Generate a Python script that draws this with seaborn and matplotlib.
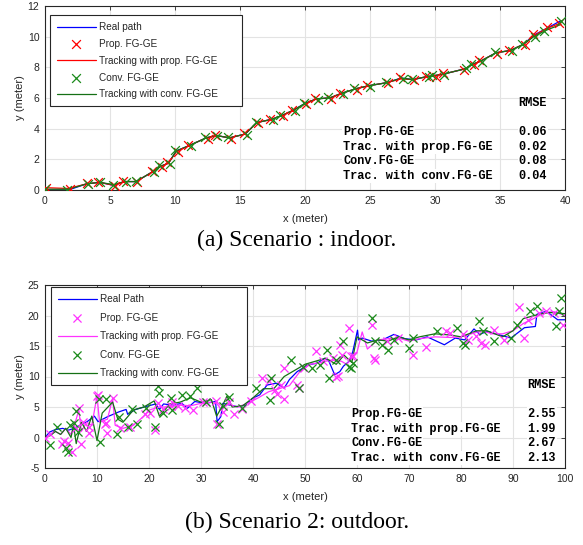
import matplotlib
matplotlib.use("Agg")
import matplotlib.pyplot as plt
import seaborn as sns

# ---------------- Scenario (a): indoor ----------------
real_x1 = [0.0, 1.8, 3.2, 4.2, 5.3, 6.1, 7.0, 8.3, 8.9, 9.5, 10.1, 11.1, 12.4, 13.2, 14.2, 15.4, 16.3, 17.4, 18.2, 19.1,
           20.0, 20.9, 21.9, 22.8, 23.9, 24.9, 26.3, 27.4, 28.3, 29.4, 29.9, 30.6, 32.3, 32.9, 33.5, 34.7, 35.8, 36.8,
           37.6, 38.5, 39.7]
real_y1 = [0.0, 0.0, 0.4, 0.5, 0.3, 0.55, 0.55, 1.2, 1.55, 1.75, 2.55, 2.9, 3.4, 3.55, 3.4, 3.65, 4.4, 4.6, 4.85, 5.2,
           5.65, 5.95, 6.0, 6.3, 6.6, 6.8, 7.0, 7.3, 7.2, 7.4, 7.45, 7.55, 7.9, 8.2, 8.4, 8.95, 9.1, 9.5, 10.1, 10.5,
           11.05]
prop_x1 = [0.1, 1.9, 3.2, 4.1, 5.4, 6.0, 7.1, 8.2, 9.0, 9.4, 10.2, 11.0, 12.5, 13.1, 14.3, 15.3, 16.4, 17.3, 18.3, 19.0,
           20.1, 20.8, 22.0, 22.7, 24.0, 24.8, 26.4, 27.3, 28.4, 29.3, 30.1, 30.6, 32.2, 33.0, 33.4, 34.8, 35.7, 36.9,
           37.5, 38.6, 39.5]
prop_y1 = [0.15, 0.05, 0.45, 0.5, 0.25, 0.6, 0.5, 1.25, 1.5, 1.8, 2.5, 2.95, 3.35, 3.6, 3.35, 3.7, 4.35, 4.65, 4.8, 5.25,
           5.6, 6.0, 5.95, 6.35, 6.55, 6.85, 6.95, 7.35, 7.15, 7.45, 7.4, 7.6, 7.85, 8.15, 8.45, 8.9, 9.15, 9.45, 10.2,
           10.6, 10.9]
conv_x1 = [0.0, 1.7, 3.3, 4.2, 5.2, 6.2, 7.0, 8.4, 8.8, 9.6, 10.0, 11.2, 12.3, 13.2, 14.1, 15.5, 16.2, 17.5, 18.1, 19.2,
           19.9, 21.0, 21.8, 22.9, 23.8, 25.0, 26.2, 27.5, 28.2, 29.5, 29.8, 30.7, 32.4, 32.8, 33.6, 34.6, 35.9, 36.7,
           37.7, 38.4, 39.7]
conv_y1 = [0.05, 0.0, 0.4, 0.55, 0.35, 0.55, 0.6, 1.15, 1.6, 1.7, 2.6, 2.85, 3.45, 3.5, 3.45, 3.6, 4.45, 4.55, 4.9, 5.15,
           5.7, 5.9, 6.05, 6.25, 6.65, 6.75, 7.05, 7.25, 7.25, 7.35, 7.5, 7.5, 7.95, 8.25, 8.35, 9.0, 9.05, 9.55, 10.0,
           10.4, 11.0]
trkp_y1 = [0.15, 0.1, 0.4, 0.5, 0.3, 0.55, 0.55, 1.2, 1.55, 1.75, 2.5, 2.9, 3.4, 3.55, 3.4, 3.65, 4.4, 4.6, 4.85, 5.2,
           5.6, 5.95, 6.0, 6.3, 6.6, 6.8, 7.0, 7.25, 7.2, 7.4, 7.45, 7.55, 7.9, 8.2, 8.4, 8.95, 9.1, 9.5, 10.05, 10.5,
           10.9]
trkc_y1 = [0.05, 0.05, 0.4, 0.5, 0.35, 0.55, 0.55, 1.2, 1.55, 1.75, 2.55, 2.9, 3.4, 3.55, 3.4, 3.65, 4.4, 4.6, 4.85,
           5.2, 5.65, 5.95, 6.0, 6.3, 6.6, 6.8, 7.0, 7.3, 7.2, 7.4, 7.45, 7.55, 7.9, 8.2, 8.4, 8.95, 9.1, 9.5, 10.0,
           10.4, 10.8]
rmse_labels = ["Prop.FG-GE", "Trac. with prop.FG-GE", "Conv.FG-GE", "Trac. with conv.FG-GE"]
rmse_vals1 = ["0.06", "0.02", "0.08", "0.04"]

# ---------------- Scenario (b): outdoor ----------------
real_x2 = [0, 0.9, 2.0, 3.4, 4.5, 5.6, 6.7, 8.1, 9.5, 10.2, 12.0, 14.2, 15.6, 15.9, 17.4, 19.5, 21.3, 22.0, 22.8, 24.5,
           26.3, 27.4, 28.8, 30.9, 32.8, 33.1, 33.8, 34.2, 35.6, 37.0, 38.5, 39.9, 41.3, 42.7, 44.5, 46.0, 47.0, 48.5,
           50.6, 52.4, 53.8, 54.6, 55.7, 56.7, 57.4, 58.5, 59.2, 60.1, 60.3, 61.0, 62.8, 64.9, 67.1, 69.2, 71.4, 73.5,
           76.8, 78.9, 80.7, 82.5, 83.6, 85.0, 87.1, 89.6, 92.2, 94.3, 94.6, 96.4, 98.6, 100]
real_y2 = [0, 0.9, 1.3, 1.5, 1.2, 1.5, 2.0, 2.6, 3.5, 2.6, 3.4, 4.2, 4.6, 3.8, 4.6, 5.1, 5.5, 4.6, 5.5, 5.3,
           5.6, 4.8, 5.9, 5.6, 5.9, 2.6, 3.4, 5.6, 5.3, 5.05, 5.3, 6.4, 7.0, 8.6, 8.9, 8.1, 9.5, 10.8, 11.9, 12.2,
           13.0, 12.5, 10.3, 10.8, 11.7, 12.5, 14.1, 17.6, 16.0, 16.3, 15.8, 16.0, 16.9, 16.2, 16.0, 16.5, 15.2, 16.3,
           16.0, 17.8, 16.9, 17.4, 16.9, 16.3, 18.0, 18.2, 20.2, 20.7, 19.3, 19.3]
prop_x2 = [0, 0.9, 3.3, 3.6, 4.5, 5.2, 5.9, 6.5, 6.9, 7.4, 8.4, 8.4, 10.0, 10.2, 11.5, 11.7, 11.9, 13.1, 14.5, 16.3,
           19.2, 20.2, 21.2, 21.7, 22.7, 24.2, 24.5, 25.6, 27.0, 28.5, 30.3, 31.0, 32.8, 33.1, 34.2, 35.3, 36.3, 37.8,
           39.6, 41.7, 43.1, 44.2, 44.6, 45.3, 46.0, 46.0, 48.5, 48.9, 49.9, 52.1, 53.5, 55.3, 56.0, 56.4, 56.7, 57.1,
           58.5, 58.9, 59.2, 62.8, 63.2, 63.5, 65.7, 67.8, 70.7, 73.2, 77.1, 77.8, 80.3, 81.4, 82.8, 83.9, 84.6, 86.4,
           88.2, 91.1, 92.1, 92.8, 95.0, 96.4, 97.9, 99.6]
prop_y2 = [0, 0.5, -1.0, -0.5, -0.9, -2.4, 1.5, 4.9, -1.1, 2.6, 1.8, 0.7, 6.8, 7.0, 2.2, 2.3, 0.7, 6.4, 1.6, 1.8,
           3.8, 4.0, 1.3, 5.6, 4.6, 5.1, 5.9, 5.1, 4.9, 4.5, 5.9, 5.9, 6.0, 2.2, 4.2, 5.9, 3.8, 4.6,
           6.0, 9.7, 9.2, 7.8, 7.1, 8.6, 6.3, 11.4, 8.6, 8.1, 11.4, 14.1, 12.5, 13.0, 10.0, 10.1, 15.2, 13.6,
           18.0, 13.3, 13.3, 18.4, 13.0, 12.7, 15.8, 16.3, 13.6, 14.9, 17.4, 17.1, 16.9, 16.0, 16.6, 15.5, 15.2, 17.7,
           16.0, 21.4, 16.3, 19.3, 20.4, 20.7, 20.4, 18.5]
conv_x2 = [0.9, 2.4, 4.1, 4.5, 4.9, 5.6, 5.9, 6.3, 10.6, 10.4, 11.7, 13.8, 14.3, 16.0, 16.7, 17.7, 19.5, 21.2, 21.7,
           22.0, 22.7, 24.2, 24.5, 26.3, 27.8, 29.2, 31.0, 32.4, 33.5, 34.2, 35.3, 37.8, 40.6, 43.3, 43.5, 47.4, 48.9,
           49.6, 51.4, 52.8, 54.2, 54.6, 56.0, 57.4, 58.5, 58.9, 59.2, 62.8, 63.5, 64.9, 66.0, 67.1, 70.0, 70.7, 75.3,
           79.3, 80.3, 80.7, 83.5, 84.3, 86.4, 89.6, 90.7, 93.2, 94.6, 98.2, 98.9, 99.3]
conv_y2 = [-1.3, 1.8, -1.8, -2.4, 2.0, 2.3, 4.3, 0.9, -0.7, 6.3, 6.3, 0.5, 3.4, 1.8, 4.6, 2.2, 4.8, 1.8, 8.4,
           7.3, 4.0, 6.4, 4.5, 7.0, 6.8, 8.1, 5.9, 9.5, 2.2, 5.1, 6.7, 4.8, 8.1, 6.2, 9.7, 12.7, 8.1,
           11.6, 11.4, 11.9, 14.4, 9.7, 12.7, 15.8, 11.5, 11.4, 12.2, 19.6, 15.8, 15.2, 14.4, 16.0, 14.7, 16.3, 17.4,
           18.0, 15.5, 15.2, 19.1, 17.4, 15.8, 16.3, 18.5, 20.7, 21.5, 18.2, 20.7, 22.9]
trkp_x2 = [0, 1, 2, 3, 4, 5, 6, 6.5, 7, 8, 9, 10, 10.5, 12, 13, 13.5, 15, 17, 19, 20, 22, 24, 26, 28, 30, 32, 33, 34,
           35, 37, 39, 41, 43, 45, 47, 49, 51, 53, 55, 57, 58, 59, 60, 61, 62, 64, 66, 68, 70, 72, 75, 78, 80, 82, 84,
           86, 88, 90, 92, 94, 96, 98, 100]
trkp_y2 = [0, 0.5, 1, 0.5, 1.5, 0.5, 3, 4.5, 1, 2.5, 2, 6.8, 2.5, 3, 6.4, 2, 1.5, 2, 3.5, 4.5, 5, 5, 5.3, 5.2, 5.6,
           5.8, 5.6, 4.5, 5.5, 5, 5.6, 6.5, 7.5, 8, 8.5, 10.8, 12, 12.3, 12.7, 12.5, 12, 13, 14, 17.3, 14.5, 16,
           16.2, 16.3, 15.8, 16.2, 16.5, 16.4, 16.5, 17, 17.5, 17, 17, 17.5, 18.7, 19.5, 20.5, 20.6, 20]
trkc_x2 = [0, 1, 2, 3, 4, 5, 5.5, 6, 7, 8, 9, 10, 11, 13, 14, 15, 17, 19, 21, 22, 24, 26, 28, 30, 32, 33, 34, 35, 36,
           38, 40, 42, 44, 46, 48, 50, 52, 54, 56, 57.5, 59, 60, 62, 64, 66, 68, 70, 72, 75, 78, 80, 83, 85, 88, 90,
           92, 95, 97, 100]
trkc_y2 = [0, 0.3, 1, 0.5, 1.5, 0, 2, -1, 2.5, 1, 3.5, -0.5, 4, 5.8, 3, 2.5, 4.5, 5, 6, 3.5, 5.5, 5.8, 6.5, 5.8,
           6.2, 3.5, 5, 6.8, 5, 5.2, 6.5, 8, 8, 10, 11, 12, 12.5, 13, 12, 13.5, 12.3, 16.5, 15.5, 16, 15.8, 16.5,
           16, 16.5, 17, 16.8, 16.5, 17.5, 17.5, 16.5, 17.5, 19.5, 20.2, 20.5, 20.3]
rmse_vals2 = ["2.55", "1.99", "2.67", "2.13"]

# ---------------- Drawing ----------------
sns.set_theme(style="white")
plt.rcParams["font.family"] = ["Liberation Sans", "DejaVu Sans"]
plt.rcParams["axes.unicode_minus"] = False
plt.rcParams["axes.edgecolor"] = "#262626"
plt.rcParams["xtick.color"] = "#262626"
plt.rcParams["ytick.color"] = "#262626"

W, H = 583, 545
fig = plt.figure(figsize=(W / 100, H / 100), dpi=100)
ax1 = fig.add_axes([45 / W, 1 - 190 / H, 520 / W, 184 / H])
ax2 = fig.add_axes([45 / W, 1 - 468 / H, 520 / W, 183 / H])

BLUE = "#0000ff"
RED = "#ff0000"
GREEN = "#1a8a1a"
MAG = "#ff33ff"
DGREEN = "#157015"


def style_axes(ax, xlim, ylim, xt, yt):
    ax.set_xlim(*xlim)
    ax.set_ylim(*ylim)
    ax.set_xticks(xt)
    ax.set_yticks(yt)
    ax.grid(True, color="#e3e3e3", linewidth=0.8)
    ax.set_axisbelow(True)
    ax.tick_params(direction="in", length=3, width=0.6, labelsize=7.5, top=True, right=True,
                   labelcolor="#262626", pad=4)
    for s in ax.spines.values():
        s.set_linewidth(0.8)
        s.set_color("#262626")
    ax.set_xlabel("x (meter)", fontsize=8, color="#262626", labelpad=6)
    ax.set_ylabel("y (meter)", fontsize=8, color="#262626", labelpad=2)


def make_legend(ax, anchor, spacing):
    leg = ax.legend(loc="upper left", bbox_to_anchor=anchor, mode="expand", fontsize=7.2, frameon=True,
                    fancybox=False, edgecolor="#262626", framealpha=1, handlelength=3.9, handletextpad=0.3,
                    labelspacing=spacing, borderpad=0.7, borderaxespad=0)
    leg.get_frame().set_linewidth(0.8)
    for t in leg.get_texts():
        t.set_color("#262626")
    return leg


# Panel (a)
sns.lineplot(x=real_x1, y=real_y1, ax=ax1, color=BLUE, linewidth=0.9, sort=False, estimator=None,
             label="Real path")
sns.scatterplot(x=prop_x1, y=prop_y1, ax=ax1, color=RED, marker="x", s=40, linewidth=0.9,
                label="Prop. FG-GE", zorder=3)
sns.lineplot(x=real_x1, y=trkp_y1, ax=ax1, color=RED, linewidth=0.9, sort=False, estimator=None,
             label="Tracking with prop. FG-GE")
sns.scatterplot(x=conv_x1, y=conv_y1, ax=ax1, color=GREEN, marker="x", s=40, linewidth=0.9,
                label="Conv. FG-GE", zorder=4)
sns.lineplot(x=real_x1, y=trkc_y1, ax=ax1, color=DGREEN, linewidth=0.9, sort=False, estimator=None,
             label="Tracking with conv. FG-GE")
style_axes(ax1, (0, 40), (0, 12), range(0, 41, 5), range(0, 13, 2))
make_legend(ax1, (0.0096, 0.5, 0.369, 0.45), 0.68)

# Panel (b)
sns.lineplot(x=real_x2, y=real_y2, ax=ax2, color=BLUE, linewidth=0.9, sort=False, estimator=None,
             label="Real Path")
sns.scatterplot(x=prop_x2, y=prop_y2, ax=ax2, color=MAG, marker="x", s=34, linewidth=0.9,
                label="Prop. FG-GE", zorder=3)
sns.lineplot(x=trkp_x2, y=trkp_y2, ax=ax2, color=MAG, linewidth=0.9, sort=False, estimator=None,
             label="Tracking with prop. FG-GE")
sns.scatterplot(x=conv_x2, y=conv_y2, ax=ax2, color=GREEN, marker="x", s=34, linewidth=0.9,
                label="Conv. FG-GE", zorder=4)
sns.lineplot(x=trkc_x2, y=trkc_y2, ax=ax2, color=DGREEN, linewidth=0.9, sort=False, estimator=None,
             label="Tracking with conv. FG-GE")
style_axes(ax2, (0, 100), (-5, 25), range(0, 101, 10), range(-5, 26, 5))
make_legend(ax2, (0.0115, 0.5, 0.377, 0.489), 0.85)


def rmse_block(ax, vals, top_px, ax_top_px, ax_h_px, rows_px, left_px, right_px):
    mono = dict(family=["Liberation Mono", "DejaVu Sans Mono"], weight="bold", fontsize=8.6, color="black")

    def fy(py):
        return 1 - (py - ax_top_px) / ax_h_px

    def fx(px):
        return (px - 45) / 520
    ax.text(fx(right_px), fy(top_px), "RMSE", transform=ax.transAxes, ha="right", va="center", **mono)
    for lab, v, py in zip(rmse_labels, vals, rows_px):
        ax.text(fx(left_px), fy(py), lab, transform=ax.transAxes, ha="left", va="center",
                bbox=dict(facecolor="white", edgecolor="none", pad=0.6), **mono)
        ax.text(fx(right_px), fy(py), v, transform=ax.transAxes, ha="right", va="center",
                bbox=dict(facecolor="white", edgecolor="none", pad=0.6), **mono)


rmse_block(ax1, rmse_vals1, 103, 6, 184, [132, 147, 161.5, 176], 343, 547)
rmse_block(ax2, rmse_vals2, 385, 285, 183, [414, 429, 443.5, 458], 351, 556)

fig.text(297 / W, 1 - 240 / H, "(a) Scenario : indoor.", ha="center", va="center",
         family=["Liberation Serif", "DejaVu Serif"], fontsize=17, color="black")
fig.text(297 / W, 1 - 522 / H, "(b) Scenario 2: outdoor.", ha="center", va="center",
         family=["Liberation Serif", "DejaVu Serif"], fontsize=17, color="black")

fig.savefig("out.png", dpi=100)
